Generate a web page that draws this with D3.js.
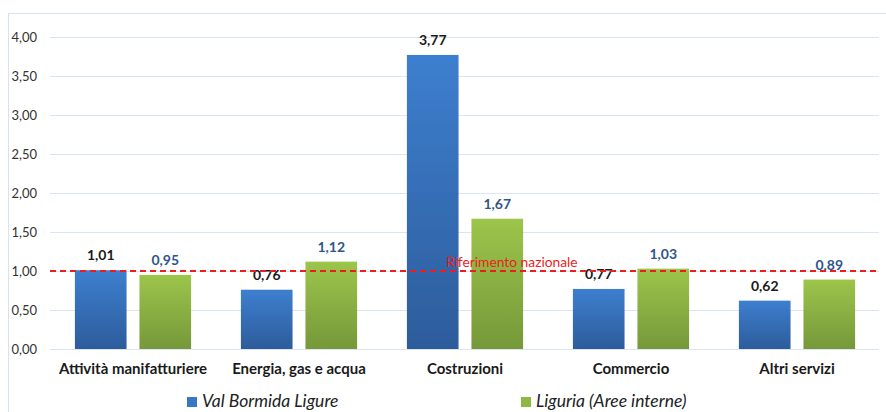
<!DOCTYPE html>
<html>
<head>
<meta charset="utf-8">
<script src="https://cdn.jsdelivr.net/npm/d3@7"></script>
<style>
  body { margin: 0; background: #fff; }
  svg { font-family: Lato, "Open Sans", sans-serif; }
</style>
</head>
<body>
<div id="chart"></div>
<script>
// data
const categories = ["Attività manifatturiere", "Energia, gas e acqua", "Costruzioni", "Commercio", "Altri servizi"];
const seriesNames = ["Val Bormida Ligure", "Liguria (Aree interne)"];
const valBormida = [1.01, 0.76, 3.77, 0.77, 0.62];
const liguria = [0.95, 1.12, 1.67, 1.03, 0.89];
const yTicks = [0, 0.5, 1, 1.5, 2, 2.5, 3, 3.5, 4];
const riferimento = 1.0;
const riferimentoLabel = "Riferimento nazionale";

const W = 886, H = 412;
const margin = {top: 37, right: 6, bottom: 63, left: 50};

const svg = d3.select("#chart").append("svg")
  .attr("width", W).attr("height", H);

// gradients for the bars
const defs = svg.append("defs");
function grad(id, top, bottom) {
  const g = defs.append("linearGradient").attr("id", id)
    .attr("x1", 0).attr("y1", 0).attr("x2", 0).attr("y2", 1);
  g.append("stop").attr("offset", "0%").attr("stop-color", top);
  g.append("stop").attr("offset", "100%").attr("stop-color", bottom);
}
grad("gBlue", "#3d7fcf", "#2d5c9b");
grad("gGreen", "#9cc54b", "#76983a");
const fills = ["url(#gBlue)", "url(#gGreen)"];
const legendColors = ["#3a77c2", "#8db843"];
const labelColors = ["#1a1a1a", "#2f5688"];

// outer frame
svg.append("rect")
  .attr("x", 8.5).attr("y", 13.5)
  .attr("width", W + 10).attr("height", H + 10)
  .attr("fill", "none").attr("stroke", "#d5e2f2").attr("stroke-width", 1);

const x0 = d3.scaleBand()
  .domain(categories)
  .range([margin.left, W - margin.right])
  .paddingInner(0.3).paddingOuter(0.15);

const x1 = d3.scaleBand()
  .domain(seriesNames)
  .range([0, x0.bandwidth()])
  .paddingInner(0.2);

const y = d3.scaleLinear()
  .domain([0, 4])
  .range([H - margin.bottom, margin.top]);

// gridlines
svg.append("g").selectAll("line")
  .data(yTicks).enter().append("line")
  .attr("x1", margin.left).attr("x2", W - margin.right - 1)
  .attr("y1", d => Math.round(y(d)) + 0.5).attr("y2", d => Math.round(y(d)) + 0.5)
  .attr("stroke", "#d9e5f3").attr("stroke-width", 1.2);

// y axis labels
const fmt = d => d3.format(".2f")(d).replace(".", ",");
svg.append("g").selectAll("text")
  .data(yTicks).enter().append("text")
  .attr("x", 37).attr("y", d => y(d) + 4.5)
  .attr("text-anchor", "end")
  .attr("font-size", 13).attr("fill", "#333")
  .text(fmt);

const rows = categories.map((c, i) => ({cat: c, vals: [valBormida[i], liguria[i]]}));

const groups = svg.append("g").selectAll("g")
  .data(rows).enter().append("g")
  .attr("transform", d => "translate(" + x0(d.cat) + ",0)");

groups.selectAll("rect")
  .data(d => d.vals.map((v, k) => ({name: seriesNames[k], v: v, k: k})))
  .enter().append("rect")
  .attr("x", d => x1(d.name))
  .attr("y", d => y(d.v))
  .attr("width", x1.bandwidth())
  .attr("height", d => y(0) - y(d.v))
  .attr("fill", d => fills[d.k]);

groups.selectAll("text.val")
  .data(d => d.vals.map((v, k) => ({name: seriesNames[k], v: v, k: k})))
  .enter().append("text")
  .attr("class", "val")
  .attr("x", d => x1(d.name) + x1.bandwidth() / 2)
  .attr("y", d => y(d.v) - 10)
  .attr("text-anchor", "middle")
  .attr("font-size", 14).attr("font-weight", "bold")
  .attr("fill", d => labelColors[d.k])
  .text(d => fmt(d.v));

// category labels
svg.append("g").selectAll("text")
  .data(categories).enter().append("text")
  .attr("x", d => x0(d) + x0.bandwidth() / 2)
  .attr("y", H - margin.bottom + 25)
  .attr("text-anchor", "middle")
  .attr("font-size", 15).attr("font-weight", "bold").attr("fill", "#1a1a1a")
  .text(d => d);

// national reference line
svg.append("line")
  .attr("x1", margin.left).attr("x2", W - margin.right - 1)
  .attr("y1", y(riferimento)).attr("y2", y(riferimento))
  .attr("stroke", "#ee1c1c").attr("stroke-width", 2)
  .attr("stroke-dasharray", "6,4");

svg.append("text")
  .attr("x", 446).attr("y", y(riferimento) - 4)
  .attr("font-size", 13.8).attr("fill", "#ee1c1c")
  .text(riferimentoLabel);

// legend
const legendX = [187, 521];
const legend = svg.append("g").selectAll("g")
  .data(seriesNames).enter().append("g")
  .attr("transform", (d, i) => "translate(" + legendX[i] + ",397)");
legend.append("rect")
  .attr("width", 10).attr("height", 10)
  .attr("fill", (d, i) => legendColors[i]);
legend.append("text")
  .attr("x", 15).attr("y", 10)
  .attr("font-size", 17.5).attr("font-style", "italic").attr("fill", "#222")
  .text(d => d);
</script>
</body>
</html>
